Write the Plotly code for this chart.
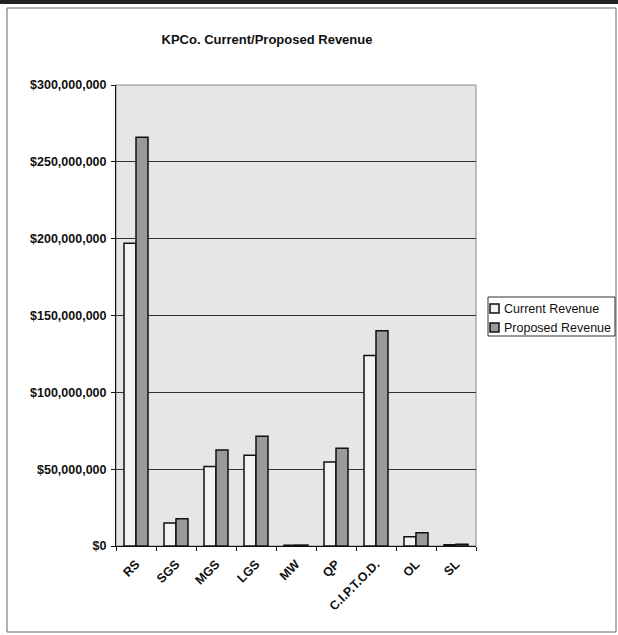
import plotly.graph_objects as go

categories = ["RS", "SGS", "MGS", "LGS", "MW", "QP", "C.I.P.T.O.D.", "OL", "SL"]
current_revenue = [197e6, 15e6, 51.8e6, 59e6, 0.5e6, 54.7e6, 124e6, 6e6, 0.8e6]
proposed_revenue = [266e6, 17.8e6, 62.5e6, 71.4e6, 0.6e6, 63.6e6, 140e6, 8.7e6, 1.2e6]
series_names = ["Current Revenue", "Proposed Revenue"]
series_colors = ["#f2f2f2", "#9a9a9a"]

W, H = 618, 635
L, R, T, B = 116, 476, 85, 546

def px_x(x):
    return (x - L) / (R - L)

def px_y(y):
    return (B - y) / (B - T)

font_family = "Liberation Sans, Arial, sans-serif"

fig = go.Figure()
for name, vals, col in zip(series_names, [current_revenue, proposed_revenue], series_colors):
    fig.add_trace(go.Bar(
        x=categories, y=vals, name=name, showlegend=False,
        marker=dict(color=col, line=dict(color="#111111", width=1.5)),
    ))

shapes = [
    # outer frame
    dict(type="rect", xref="paper", yref="paper",
         x0=px_x(7), x1=px_x(616), y0=px_y(632), y1=px_y(8),
         line=dict(color="#666666", width=1), fillcolor="rgba(0,0,0,0)", layer="below"),
    # dark top edge
    dict(type="rect", xref="paper", yref="paper",
         x0=px_x(0), x1=px_x(618), y0=px_y(4), y1=px_y(0),
         line=dict(width=0), fillcolor="#222222", layer="below"),
    # light plot border
    dict(type="rect", xref="paper", yref="paper", x0=0, x1=1, y0=0, y1=1,
         line=dict(color="#888888", width=1), fillcolor="rgba(0,0,0,0)", layer="below"),
    # legend box
    dict(type="rect", xref="paper", yref="paper",
         x0=px_x(488), x1=px_x(615), y0=px_y(336), y1=px_y(297),
         line=dict(color="#333333", width=1), fillcolor="white"),
]
annotations = []
for i, (name, col) in enumerate(zip(series_names, series_colors)):
    yc = 308.5 + i * 19
    shapes.append(dict(type="rect", xref="paper", yref="paper",
                       x0=px_x(490), x1=px_x(499), y0=px_y(yc + 4.5), y1=px_y(yc - 4.5),
                       line=dict(color="#111111", width=1.5), fillcolor=col))
    annotations.append(dict(text=name, xref="paper", yref="paper",
                            x=px_x(502), y=px_y(yc), xanchor="left", yanchor="middle",
                            showarrow=False,
                            font=dict(family=font_family, size=12.5, color="#111111")))

fig.update_layout(
    width=W, height=H,
    margin=dict(l=L, r=W - R, t=T, b=H - B, autoexpand=False),
    paper_bgcolor="white",
    plot_bgcolor="#e6e6e6",
    barmode="group",
    bargap=0.4,
    bargroupgap=0,
    title=dict(text="KPCo. Current/Proposed Revenue", xref="container",
               x=267 / W, xanchor="center", yref="container", y=1 - 39 / H, yanchor="middle",
               font=dict(family=font_family, size=13, color="#111111", weight="bold")),
    font=dict(family=font_family, size=12, color="#111111"),
    shapes=shapes,
    annotations=annotations,
    showlegend=False,
)

fig.update_yaxes(
    range=[0, 300e6], dtick=50e6, tickprefix="$", tickformat=",d",
    showgrid=True, gridcolor="#333333", gridwidth=1,
    showline=True, linecolor="#111111", linewidth=1,
    ticks="outside", ticklen=4, tickcolor="#111111", ticklabelstandoff=2,
    tickfont=dict(family=font_family, size=12.5, color="#111111", weight="bold"),
    zeroline=False, mirror=False,
)
fig.update_xaxes(
    tickangle=-45, showgrid=False,
    showline=True, linecolor="#111111", linewidth=1,
    ticks="outside", ticklen=4, tickcolor="#111111", tickson="boundaries",
    ticklabelstandoff=5,
    tickfont=dict(family=font_family, size=12.5, color="#111111", weight="bold"),
)

fig.write_html("out.html")
